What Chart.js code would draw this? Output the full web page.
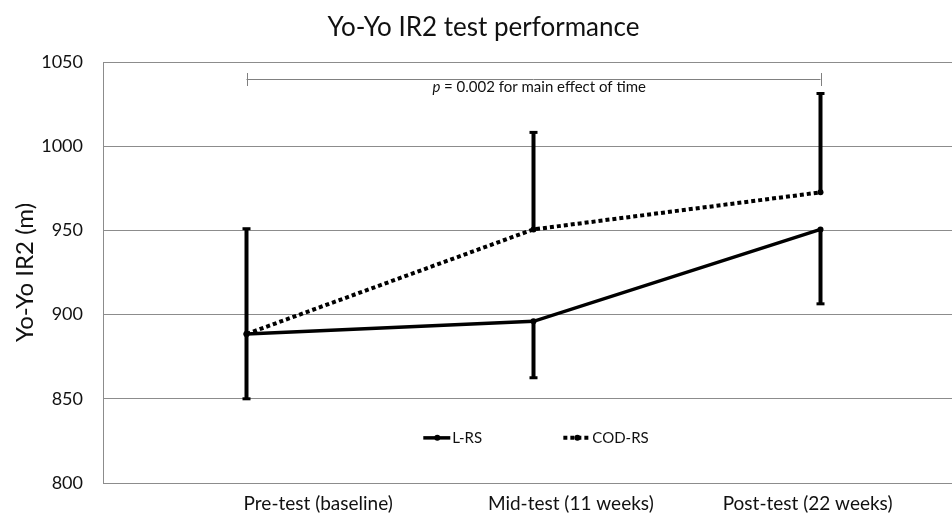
<!DOCTYPE html>
<html>
<head>
<meta charset="utf-8">
<script src="https://cdn.jsdelivr.net/npm/chart.js@4/dist/chart.umd.min.js"></script>
<style>
  html, body { margin: 0; padding: 0; background: #fff; overflow: hidden; }
  #wrap { width: 968px; height: 517px; }
</style>
</head>
<body>
<div id="wrap"><canvas id="yoyoChart" width="968" height="517"></canvas></div>
<script>
// category labels and where they sit on the x scale
const categories = ["Pre-test (baseline)", "Mid-test (11 weeks)", "Post-test (22 weeks)"];
const pointX = [0.5, 1.5, 2.5];
const labelX = [0.75, 1.63, 2.455];

// group means and SD (L-RS error drawn down, COD-RS error drawn up)
const lrsMean = [888.5, 896, 950.6];
const lrsSD = [38.5, 33.5, 44.2];
const codMean = [888.5, 950.6, 972.6];
const codSD = [62.5, 57.6, 58.7];

const yTicks = [800, 850, 900, 950, 1000, 1050];

// significance bracket
const bracketX = [0.5, 2.5];
const bracketY = 1040;
const bracketText = "= 0.002 for main effect of time";

const FONT = "Lato, 'Open Sans', sans-serif";

function toPoints(means) {
  return means.map((m, i) => ({ x: pointX[i], y: m }));
}

// error bars, bracket and the legend inside the plot
const extras = {
  id: "extras",
  afterDatasetsDraw(chart) {
    const ctx = chart.ctx;
    const xs = chart.scales.x;
    const ys = chart.scales.y;

    const bars = [
      { mean: lrsMean, sd: lrsSD, dir: -1 },
      { mean: codMean, sd: codSD, dir: 1 },
    ];
    ctx.save();
    ctx.strokeStyle = "#000";
    bars.forEach((b) => {
      b.mean.forEach((m, i) => {
        const px = xs.getPixelForValue(pointX[i]);
        const y0 = ys.getPixelForValue(m);
        const y1 = ys.getPixelForValue(m + b.dir * b.sd[i]);
        ctx.lineWidth = 4;
        ctx.beginPath();
        ctx.moveTo(px, y0);
        ctx.lineTo(px, y1);
        ctx.stroke();
        ctx.lineWidth = 3;
        ctx.beginPath();
        ctx.moveTo(px - 4, y1);
        ctx.lineTo(px + 4, y1);
        ctx.stroke();
      });
    });

    // bracket
    const bx0 = xs.getPixelForValue(bracketX[0]);
    const bx1 = xs.getPixelForValue(bracketX[1]);
    const by = Math.round(ys.getPixelForValue(bracketY)) + 0.5;
    ctx.strokeStyle = "#808080";
    ctx.lineWidth = 1;
    ctx.beginPath();
    ctx.moveTo(bx0, by);
    ctx.lineTo(bx1, by);
    ctx.moveTo(Math.round(bx0) + 0.5, by - 6.5);
    ctx.lineTo(Math.round(bx0) + 0.5, by + 6.5);
    ctx.moveTo(Math.round(bx1) + 0.5, by - 6.5);
    ctx.lineTo(Math.round(bx1) + 0.5, by + 6.5);
    ctx.stroke();

    ctx.fillStyle = "#111";
    ctx.textBaseline = "middle";
    ctx.font = "italic 15px " + FONT;
    const pw = ctx.measureText("p ").width;
    ctx.font = "15px " + FONT;
    const tw = ctx.measureText(bracketText).width;
    const tx = xs.getPixelForValue(1.52) - (pw + tw) / 2;
    const ty = ys.getPixelForValue(1035);
    ctx.textAlign = "left";
    ctx.font = "italic 15px " + FONT;
    ctx.fillText("p ", tx, ty);
    ctx.font = "15px " + FONT;
    ctx.fillText(bracketText, tx + pw, ty);

    // legend
    const ly = ys.getPixelForValue(826.8);
    const items = [
      { ds: chart.data.datasets[0], x0: xs.getPixelForValue(1.116) },
      { ds: chart.data.datasets[1], x0: xs.getPixelForValue(1.604) },
    ];
    items.forEach((it) => {
      ctx.strokeStyle = "#000";
      ctx.lineWidth = it.ds.borderWidth;
      ctx.setLineDash(it.ds.borderDash || []);
      ctx.beginPath();
      ctx.moveTo(it.x0, ly);
      ctx.lineTo(it.x0 + 27, ly);
      ctx.stroke();
      ctx.setLineDash([]);
      ctx.fillStyle = "#000";
      ctx.beginPath();
      ctx.arc(it.x0 + 14, ly, 3, 0, Math.PI * 2);
      ctx.fill();
      ctx.fillStyle = "#111";
      ctx.font = "15px " + FONT;
      ctx.fillText(it.ds.label, it.x0 + 29, ly);
    });
    ctx.restore();
  },
};

const ctx = document.getElementById("yoyoChart");

new Chart(ctx, {
  type: "line",
  data: {
    datasets: [
      {
        label: "L-RS",
        data: toPoints(lrsMean),
        borderColor: "#000",
        backgroundColor: "#000",
        borderWidth: 3.5,
        pointRadius: 3,
        pointBackgroundColor: "#000",
        pointBorderWidth: 0,
      },
      {
        label: "COD-RS",
        data: toPoints(codMean),
        borderColor: "#000",
        backgroundColor: "#000",
        borderWidth: 4,
        borderDash: [4, 3],
        borderCapStyle: "butt",
        pointRadius: 3,
        pointBackgroundColor: "#000",
        pointBorderWidth: 0,
      },
    ],
  },
  options: {
    responsive: false,
    animation: false,
    layout: { padding: { left: 0, right: 1, top: 0, bottom: 0 } },
    plugins: {
      legend: { display: false },
      tooltip: { enabled: false },
      title: {
        display: true,
        text: "Yo-Yo IR2 test performance",
        color: "#111",
        font: { family: FONT, size: 26, weight: "normal" },
        padding: { top: 12.4, bottom: 18.4 },
      },
    },
    scales: {
      x: {
        type: "linear",
        min: 0,
        max: 3,
        grid: { display: false, drawTicks: false },
        border: { display: false },
        afterBuildTicks: (scale) => {
          scale.ticks = labelX.map((v) => ({ value: v }));
        },
        afterFit: (scale) => {
          scale.height = 34;
        },
        ticks: {
          autoSkip: false,
          maxRotation: 0,
          padding: 9,
          color: "#111",
          font: { family: FONT, size: 19 },
          callback: (value, index) => categories[index],
        },
      },
      y: {
        min: 800,
        max: 1050,
        afterBuildTicks: (scale) => {
          scale.ticks = yTicks.map((v) => ({ value: v }));
        },
        afterFit: (scale) => {
          scale.width = 103;
        },
        grid: { color: "#8c8c8c", lineWidth: 1, drawTicks: false },
        border: { display: true, color: "#8c8c8c", width: 1 },
        ticks: {
          padding: 20,
          color: "#111",
          font: { family: FONT, size: 18 },
          callback: (value) => String(value),
        },
        title: {
          display: true,
          text: "Yo-Yo IR2 (m)",
          color: "#111",
          font: { family: FONT, size: 24 },
          padding: { top: 10.6, bottom: 0 },
        },
      },
    },
  },
  plugins: [extras],
});
</script>
</body>
</html>
